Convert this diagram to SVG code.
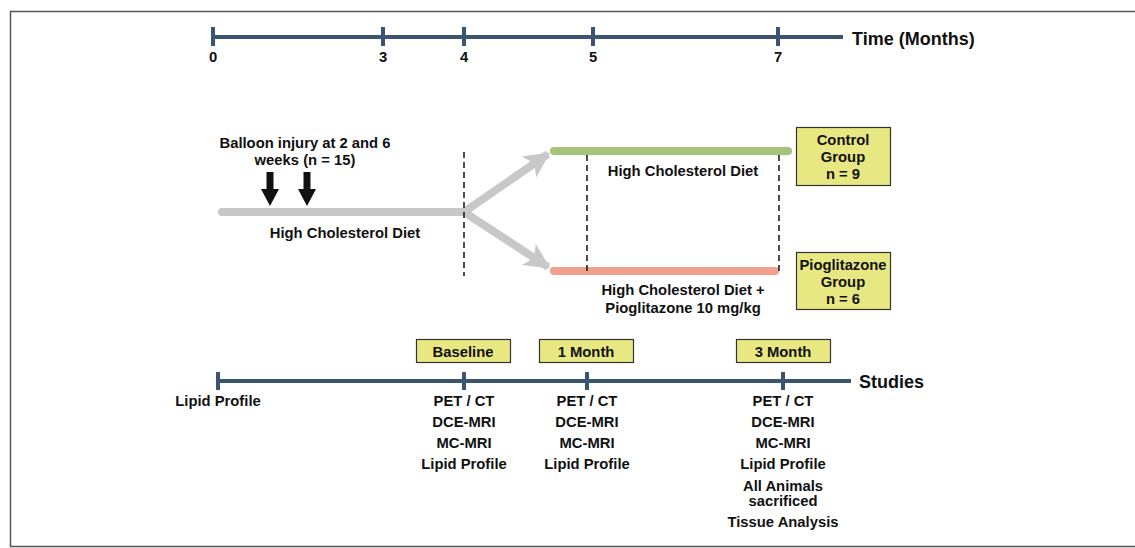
<svg xmlns="http://www.w3.org/2000/svg" width="1135" height="548" viewBox="0 0 1135 548">
<defs>
<style>
text{font-family:"Liberation Sans",Arial,sans-serif;font-weight:bold;font-size:14.8px;fill:#111;text-anchor:middle}
.axis{stroke:#3a5572;stroke-width:4;fill:none}
.tick{stroke:#3a5572;stroke-width:4}
.big{font-size:18px;text-anchor:start}
.dash{stroke:#111;stroke-width:1.5;stroke-dasharray:6,4;fill:none}
.box{fill:#e8e882;stroke:#333;stroke-width:1.2}
.gray{stroke:#c8c8c8;stroke-width:8;stroke-linecap:round;fill:none}
.frame{stroke:#555;stroke-width:1.5;fill:none}
</style>
<marker id="gh" viewBox="0 0 10 10" refX="9" refY="5" markerWidth="3.4" markerHeight="3.2" orient="auto" markerUnits="strokeWidth">
<path d="M0,0 L10,5 L0,10 L2.5,5 z" fill="#c8c8c8"/>
</marker>
</defs>
<rect x="0" y="0" width="1135" height="548" fill="#fff"/>
<path class="frame" d="M1135,11.5 H10.5 V546.5 H1135"/>

<g id="time-axis">
<line class="axis" x1="213" y1="37" x2="843" y2="37"/>
<line class="tick" x1="213" y1="27" x2="213" y2="46"/>
<line class="tick" x1="383" y1="27" x2="383" y2="46"/>
<line class="tick" x1="464" y1="27" x2="464" y2="46"/>
<line class="tick" x1="593" y1="27" x2="593" y2="46"/>
<line class="tick" x1="778" y1="27" x2="778" y2="46"/>
<text x="213" y="62">0</text>
<text x="383" y="62">3</text>
<text x="464" y="62">4</text>
<text x="593" y="62">5</text>
<text x="778" y="62">7</text>
<text class="big" x="852" y="45">Time (Months)</text>
</g>

<g id="connectors">
<line class="gray" x1="222" y1="212" x2="464" y2="212"/>
<line stroke="#c8c8c8" stroke-width="8" x1="464" y1="212" x2="548" y2="154" marker-end="url(#gh)"/>
<line stroke="#c8c8c8" stroke-width="8" x1="464" y1="212" x2="548" y2="267" marker-end="url(#gh)"/>
<line stroke="#a5c47a" stroke-width="8" stroke-linecap="round" x1="554" y1="151" x2="788" y2="151"/>
<line stroke="#f2a08e" stroke-width="8" stroke-linecap="round" x1="554" y1="271" x2="775" y2="271"/>
<path d="M266.5,172 H273.5 V189 H279 L270,206 L261,189 H266.5 Z" fill="#111"/>
<path d="M303.5,172 H310.5 V189 H316 L307,206 L298,189 H303.5 Z" fill="#111"/>
<line class="dash" x1="464" y1="152" x2="464" y2="276"/>
<line class="dash" x1="587" y1="155" x2="587" y2="273"/>
<line class="dash" x1="779" y1="155" x2="779" y2="273"/>
</g>

<g id="balloon-label">
<text x="305" y="148">Balloon injury at 2 and 6</text>
<text x="305" y="165">weeks (n = 15)</text>
</g>
<g id="diet-label"><text x="345" y="238">High Cholesterol Diet</text></g>
<g id="control-diet-label"><text x="683" y="176">High Cholesterol Diet</text></g>
<g id="pio-diet-label">
<text x="683" y="295">High Cholesterol Diet +</text>
<text x="683" y="313">Pioglitazone 10 mg/kg</text>
</g>

<g id="control-group">
<rect class="box" x="796.5" y="127.5" width="94" height="58"/>
<text x="843" y="145">Control</text>
<text x="843" y="162">Group</text>
<text x="843" y="179">n = 9</text>
</g>
<g id="pioglitazone-group">
<rect class="box" x="796.5" y="252.5" width="94" height="57"/>
<text x="843" y="270">Pioglitazone</text>
<text x="843" y="287">Group</text>
<text x="843" y="304">n = 6</text>
</g>

<g id="studies-axis">
<line class="axis" x1="218" y1="381" x2="851" y2="381"/>
<line class="tick" x1="218" y1="372" x2="218" y2="390"/>
<line class="tick" x1="464" y1="372" x2="464" y2="390"/>
<line class="tick" x1="587" y1="372" x2="587" y2="390"/>
<line class="tick" x1="783" y1="372" x2="783" y2="390"/>
<text class="big" x="859" y="388">Studies</text>
</g>

<g id="baseline">
<rect class="box" x="416.5" y="339.5" width="94" height="23"/>
<text x="463" y="357">Baseline</text>
</g>
<g id="one-month">
<rect class="box" x="539.5" y="339.5" width="94" height="23"/>
<text x="586" y="357">1 Month</text>
</g>
<g id="three-month">
<rect class="box" x="736.5" y="339.5" width="94" height="23"/>
<text x="783" y="357">3 Month</text>
</g>

<g id="study-start"><text x="218" y="406">Lipid Profile</text></g>
<g id="study-baseline">
<text x="464" y="406">PET / CT</text>
<text x="464" y="427">DCE-MRI</text>
<text x="464" y="448">MC-MRI</text>
<text x="464" y="469">Lipid Profile</text>
</g>
<g id="study-1month">
<text x="587" y="406">PET / CT</text>
<text x="587" y="427">DCE-MRI</text>
<text x="587" y="448">MC-MRI</text>
<text x="587" y="469">Lipid Profile</text>
</g>
<g id="study-3month">
<text x="783" y="406">PET / CT</text>
<text x="783" y="427">DCE-MRI</text>
<text x="783" y="448">MC-MRI</text>
<text x="783" y="469">Lipid Profile</text>
<text x="783" y="491">All Animals</text>
<text x="783" y="506">sacrificed</text>
<text x="783" y="527">Tissue Analysis</text>
</g>
</svg>
